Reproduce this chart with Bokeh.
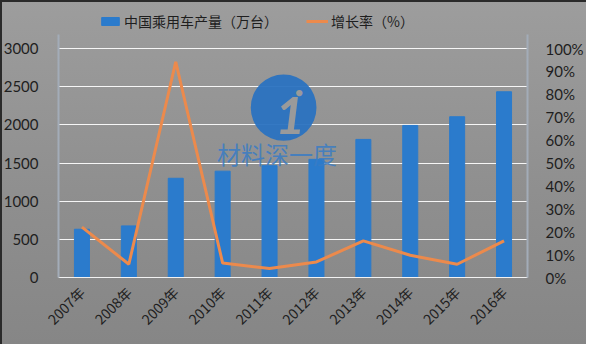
from math import pi
from bokeh.plotting import figure
from bokeh.models import (Range1d, LinearAxis, FixedTicker, NumeralTickFormatter,
                          Legend, LegendItem, Label, BoxAnnotation, ColumnDataSource)
from bokeh.embed import file_html
from bokeh.resources import INLINE

years = ["2007年", "2008年", "2009年", "2010年", "2011年",
         "2012年", "2013年", "2014年", "2015年", "2016年"]
production = [632, 676, 1300, 1393, 1465, 1548, 1809, 1992, 2106, 2433]
growth = [0.22, 0.058, 0.942, 0.063, 0.039, 0.068, 0.16, 0.097, 0.058, 0.16]
left_ticks = [0, 500, 1000, 1500, 2000, 2500, 3000]
right_ticks = [i / 10 for i in range(11)]

BLUE = "#2b7bcc"
ORANGE = "#ec8a4c"
FONT = "Lato"
CJK = "Noto Sans CJK SC"

# frame runs up to the top so that the legend (inside the frame) is not clipped
FRAME_H = 273
SCALE_H = 229
top_left = 3000 * FRAME_H / SCALE_H
top_right = 1.0 * FRAME_H / SCALE_H

src = ColumnDataSource(dict(year=years, prod=production, growth=growth))

p = figure(x_range=years, y_range=Range1d(0, top_left), width=586, height=344,
           output_backend="svg", toolbar_location=None,
           min_border_left=54, min_border_right=57, min_border_top=4, min_border_bottom=67,
           styles={"background": "linear-gradient(180deg, #9d9d9d 0%, #8f8f8f 55%, #868686 100%)",
                   "box-shadow": "inset 2px 2px 0 #2a2a2a"})
p.background_fill_alpha = 0
p.border_fill_alpha = 0
p.outline_line_color = None

p.extra_y_ranges = {"pct": Range1d(0, top_right)}

bars = p.vbar(x="year", top="prod", width=0.32, source=src, color=BLUE)
line = p.line(x="year", y="growth", source=src, y_range_name="pct",
              line_color=ORANGE, line_width=3)

# axes
p.yaxis.ticker = FixedTicker(ticks=left_ticks)
p.yaxis.bounds = (0, 3000 * 1.06)
ax_r = LinearAxis(y_range_name="pct", ticker=FixedTicker(ticks=right_ticks),
                  formatter=NumeralTickFormatter(format="0%"), bounds=(0, 1.06))
p.add_layout(ax_r, "right")

for ax in [p.yaxis[0], ax_r]:
    ax.axis_line_color = "#a3acb8"
    ax.axis_line_width = 2
    ax.major_tick_line_color = None
    ax.minor_tick_line_color = None
    ax.major_label_text_font = FONT
    ax.major_label_text_font_size = "15px"
    ax.major_label_text_color = "#1e1e1e"
    ax.major_label_standoff = 14
ax_r.major_label_standoff = 12

p.xaxis.axis_line_color = "#f2f2f2"
p.xaxis.axis_line_width = 1
p.xaxis.major_tick_line_color = None
p.xaxis.minor_tick_line_color = None
p.xaxis.major_label_orientation = pi / 4
p.xaxis.major_label_text_font = CJK
p.xaxis.major_label_text_font_size = "14px"
p.xaxis.major_label_text_color = "#1e1e1e"
p.xaxis.major_label_standoff = 6

p.xgrid.grid_line_color = None
p.ygrid.grid_line_color = "#f6f6f6"
p.ygrid.grid_line_width = 1

# watermark
p.add_layout(BoxAnnotation(left=4.1, right=5.5, bottom=1790, top=2660, border_radius=34,
                           fill_color="#2a72c0", fill_alpha=0.95, line_color=None))
p.add_layout(Label(x=4.62, y=1880, text="1", text_color="#9a9a9a", text_font=FONT,
                   text_font_style="bold italic", text_font_size="52px"))
p.add_layout(Label(x=5.05, y=2330, text="●", text_color="#9a9a9a", text_font=FONT,
                   text_font_size="13px"))
p.add_layout(Label(x=3.38, y=1400, text="材料深一度", text_color="#3a7cc4", text_alpha=0.85,
                   text_font=CJK, text_font_size="24px"))

legend = Legend(items=[LegendItem(label="中国乘用车产量（万台）", renderers=[bars]),
                       LegendItem(label="增长率（%）", renderers=[line])],
                orientation="horizontal", location=(41, FRAME_H - 27),
                background_fill_alpha=0, border_line_color=None,
                label_text_font=CJK, label_text_font_size="14px", label_text_color="#1e1e1e",
                glyph_width=22, glyph_height=10, spacing=28, label_standoff=3,
                padding=0, margin=0)
p.add_layout(legend)

open("out.html", "w").write(file_html(p, INLINE))
